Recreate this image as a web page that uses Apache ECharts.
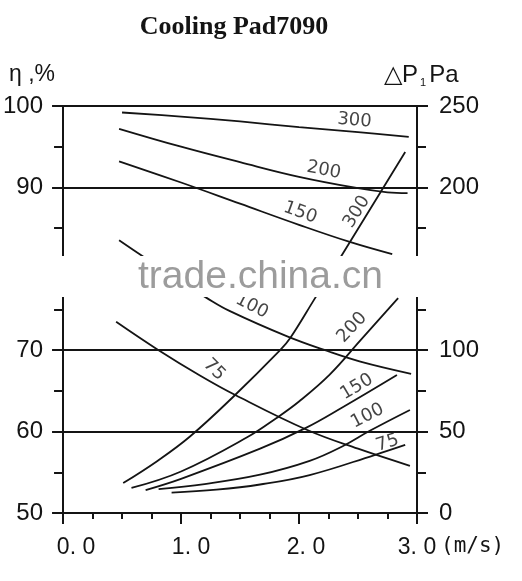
<!DOCTYPE html>
<html><head><meta charset="utf-8">
<script src="https://cdn.jsdelivr.net/npm/echarts@6/dist/echarts.min.js"></script>
<style>html,body{margin:0;padding:0;background:#fff}#c{width:522px;height:581px}</style>
</head><body><div id="c"></div>
<script>
// ---- tick labels ----
const xTickValues = [0, 1, 2, 3];
const xTickLabels = ['0. 0', '1. 0', '2. 0', '3. 0'];
const etaTickValues = [50, 60, 70, 80, 90, 100];
const etaTickLabels = ['50', '60', '70', '', '90', '100'];
const dpTickValues = [0, 50, 100, 150, 200, 250];
const dpTickLabels = ['0', '50', '100', '', '200', '250'];
const etaGridLines = [100, 90, 70, 60];

// ---- pad thickness names ----
const padNames = ['300', '200', '150', '100', '75'];

// ---- efficiency curves  [velocity m/s, eta %] ----
const eta300 = [[0.50,99.2],[1.0,98.7],[1.5,98.1],[2.0,97.4],[2.5,96.8],[2.93,96.2]];
const eta200 = [[0.475,97.2],[1.0,95.0],[1.5,93.1],[2.0,91.3],[2.5,89.9],[2.75,89.4],[2.92,89.3]];
const eta150 = [[0.475,93.2],[1.0,90.6],[1.5,88.0],[2.0,85.4],[2.43,83.3],[2.79,81.8]];
const eta100 = [[0.475,83.5],[0.65,81.8],[1.0,78.4],[1.22,76.4],[1.415,74.8],[1.9,71.7],[2.24,69.9],[2.52,68.6],[2.95,67.1]];
const eta75  = [[0.45,73.5],[0.8,70.1],[1.16,66.9],[1.46,64.5],[2.07,60.2],[2.5,57.9],[2.94,55.8]];

// ---- pressure drop curves [velocity m/s, dP Pa] ----
const dp300 = [[0.51,18.4],[0.8,32],[1.076,47],[1.443,71.4],[1.84,100],[1.924,107.3],[2.136,132],[2.36,158],[2.9,221.7]];
const dp200 = [[0.58,15.4],[1.0,25.5],[1.56,46.5],[1.81,58.4],[2.0,68.5],[2.26,85],[2.52,106],[2.84,132]];
const dp150 = [[0.70,14.1],[1.0,21],[1.67,39.5],[2.05,52],[2.37,65],[2.83,84.8]];
const dp100 = [[0.81,14.7],[1.2,17.8],[1.67,23.5],[2.09,32],[2.37,41],[2.6,50.5],[2.94,63.3]];
const dp75  = [[0.92,12.5],[1.3,14.3],[1.67,17.5],[2.09,23.3],[2.64,35.6],[2.90,41.8]];

// ---- curve label anchors ----
const etaLabelAt = [[2.47,98.2],[2.21,92.1],[2.01,86.9],[1.60,75.4],[1.28,67.6]];
const etaLabelAngle = [-5, -11, -20, -27, -45];
const dpLabelAt = [[2.49,185],[2.45,114],[2.49,77.4],[2.58,59.6],[2.75,43]];
const dpLabelAngle = [58, 47, 31, 27, 18];

const etaCurves = [eta300, eta200, eta150, eta100, eta75];
const dpCurves = [dp300, dp200, dp150, dp100, dp75];

const ink = '#141414';
const chart = echarts.init(document.getElementById('c'), null, {renderer: 'canvas'});

function lookup(values, labels) {
  return function (v) {
    for (let i = 0; i < values.length; i++) if (Math.abs(values[i] - v) < 1e-6) return labels[i];
    return '';
  };
}

const series = [];
etaCurves.forEach((d, i) => {
  series.push({
    type: 'line', name: 'eta' + padNames[i], xAxisIndex: 0, yAxisIndex: 0,
    data: d, smooth: 0.4, symbol: 'none', silent: true, z: 3,
    lineStyle: {color: ink, width: 1.8},
    markLine: i === 0 ? {
      silent: true, symbol: 'none', animation: false,
      label: {show: false},
      lineStyle: {color: ink, width: 2, type: 'solid'},
      data: etaGridLines.map(v => ({yAxis: v}))
    } : undefined
  });
});
dpCurves.forEach((d, i) => {
  series.push({
    type: 'line', name: 'dp' + padNames[i], xAxisIndex: 0, yAxisIndex: 1,
    data: d, smooth: 0.4, symbol: 'none', silent: true, z: 3,
    lineStyle: {color: ink, width: 1.8}
  });
});
const lblStyle = {show: true, position: 'inside', color: ink, fontSize: 18, fontFamily: 'DejaVu Sans',
  formatter: p => p.name};
series.push({
  type: 'scatter', yAxisIndex: 0, symbolSize: 0, silent: true, z: 4,
  label: lblStyle,
  data: etaLabelAt.map((p, i) => ({name: padNames[i], value: p, label: {rotate: etaLabelAngle[i]}}))
});
series.push({
  type: 'scatter', yAxisIndex: 1, symbolSize: 0, silent: true, z: 4,
  label: lblStyle,
  data: dpLabelAt.map((p, i) => ({name: padNames[i], value: p, label: {rotate: dpLabelAngle[i]}}))
});

const axisCommon = {
  axisLine: {show: true, lineStyle: {color: ink, width: 2}},
  axisTick: {show: true, inside: false, length: 11, lineStyle: {color: ink, width: 2}},
  splitLine: {show: false}
};

// per-label horizontal nudge (style only)
const xRich = {
  x0: {padding: [0, 0, 0, 26]},
  x1: {padding: [0, 0, 0, 20]},
  x2: {padding: [0, 0, 0, 14]},
  x3: {padding: [0, 0, 0, 0]}
};

chart.setOption({
  animation: false,
  backgroundColor: '#fff',
  grid: {left: 63, right: 105, top: 106, bottom: 68, containLabel: false},
  xAxis: Object.assign({}, axisCommon, {
    type: 'value', min: 0, max: 3, interval: 1,
    minorTick: {show: true, splitNumber: 4, length: 6, lineStyle: {color: ink, width: 2}},
    axisLabel: {color: ink, fontSize: 23, fontFamily: 'Liberation Sans', margin: 23,
      rich: xRich,
      formatter: function (v) {
        const i = xTickValues.indexOf(Math.round(v));
        return i < 0 ? '' : '{x' + i + '|' + xTickLabels[i] + '}';
      }}
  }),
  yAxis: [
    Object.assign({}, axisCommon, {
      type: 'value', position: 'left', min: 50, max: 100, interval: 10,
      minorTick: {show: true, splitNumber: 2, length: 9, lineStyle: {color: ink, width: 2}},
      axisLabel: {color: ink, fontSize: 24, fontFamily: 'Liberation Sans', margin: 20,
        formatter: lookup(etaTickValues, etaTickLabels)}
    }),
    Object.assign({}, axisCommon, {
      type: 'value', position: 'right', min: 0, max: 250, interval: 50,
      minorTick: {show: true, splitNumber: 2, length: 9, lineStyle: {color: ink, width: 2}},
      axisLabel: {color: ink, fontSize: 24, fontFamily: 'Liberation Sans', margin: 22,
        formatter: lookup(dpTickValues, dpTickLabels)}
    })
  ],
  series: series,
  graphic: {elements: [
    {type: 'text', z: 10, silent: true, x: 234, y: 27,
      style: {text: 'Cooling Pad7090', fill: ink, font: 'bold 26px "Liberation Serif"',
        align: 'center', verticalAlign: 'middle'}},
    {type: 'text', z: 10, silent: true, x: 9, y: 75,
      style: {text: 'η ,%', fill: ink, font: '23px "Liberation Sans"', verticalAlign: 'middle'}},
    {type: 'text', z: 10, silent: true, x: 384, y: 75,
      style: {text: '{a|△P}{s|1}{a|Pa}', verticalAlign: 'middle', fill: ink,
        rich: {a: {fontSize: 24, fontFamily: 'Liberation Sans', fill: ink},
               s: {fontSize: 11, fontFamily: 'Liberation Sans', fill: ink, padding: [15, 3, 0, 2]}}}},
    {type: 'text', z: 10, silent: true, x: 441, y: 547,
      style: {text: '(m/s)', fill: ink, font: '21px "DejaVu Sans Mono"', verticalAlign: 'middle'}},
    {type: 'rect', z: 20, silent: true, shape: {x: 48, y: 256, width: 384, height: 41},
      style: {fill: '#ffffff'}},
    {type: 'text', z: 21, silent: true, x: 138, y: 277,
      style: {text: 'trade.china.cn', fill: '#9c9c9c', font: '39px "Liberation Sans"', verticalAlign: 'middle'}}
  ]}
});
</script>
</body></html>
